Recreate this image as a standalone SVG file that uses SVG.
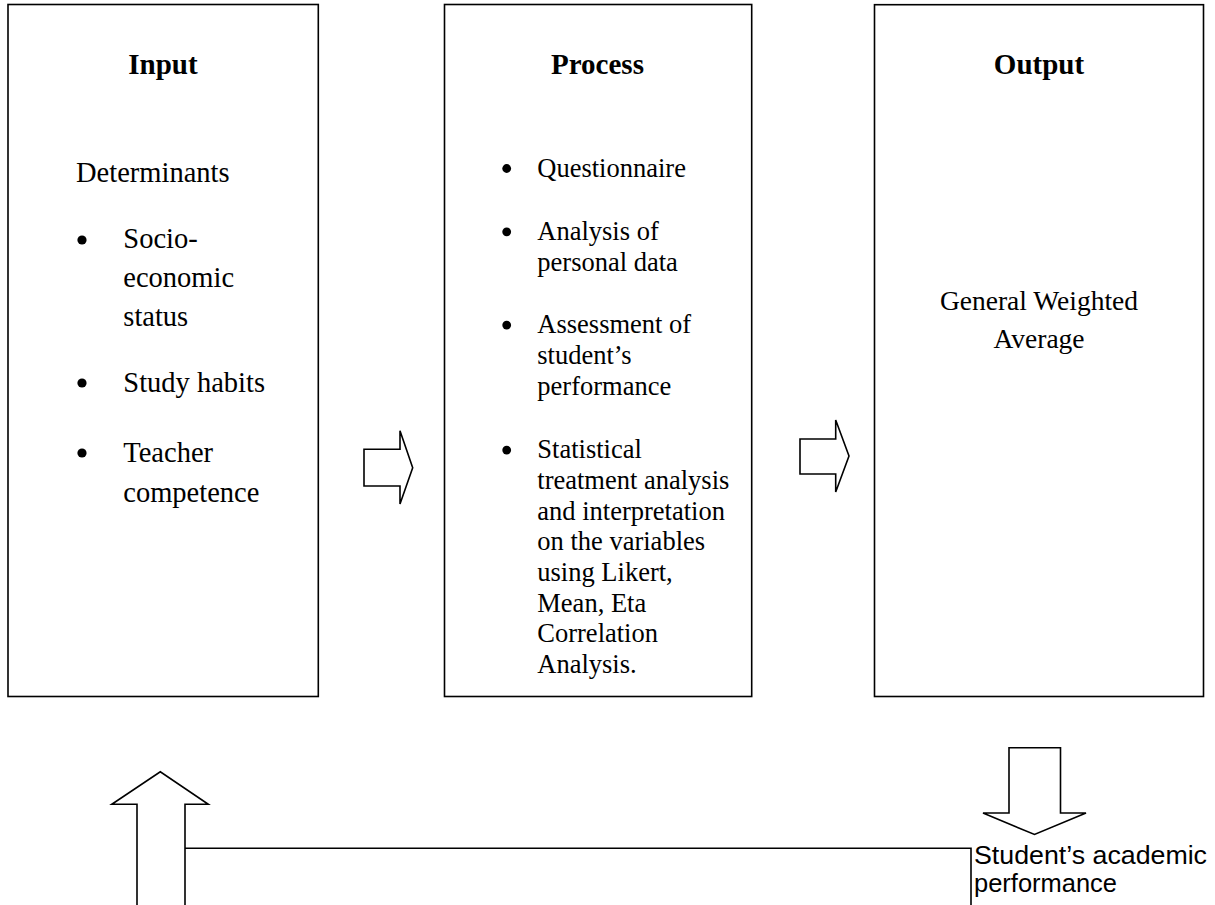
<svg xmlns="http://www.w3.org/2000/svg" width="1215" height="905" viewBox="0 0 1215 905">
  <style>
    .box { fill: #ffffff; stroke: #000000; stroke-width: 1.6; }
    .arrow { fill: #ffffff; stroke: #000000; stroke-width: 1.6; stroke-linejoin: miter; }
    .line { fill: none; stroke: #000000; stroke-width: 1.6; }
    .title { font-family: "Liberation Serif", "Times New Roman", serif; font-weight: bold; font-size: 29px; fill: #000; text-anchor: middle; }
    .t-in { font-family: "Liberation Serif", "Times New Roman", serif; font-size: 28.5px; fill: #000; }
    .t-pr { font-family: "Liberation Serif", "Times New Roman", serif; font-size: 26.5px; fill: #000; }
    .t-out { font-family: "Liberation Serif", "Times New Roman", serif; font-size: 27.5px; fill: #000; text-anchor: middle; }
    .t-sans { font-family: "Liberation Sans", Arial, sans-serif; font-size: 26px; fill: #000; }
    .bullet { fill: #000; }
  </style>
  <rect width="1215" height="905" fill="#ffffff"/>

  <g id="node-input">
    <rect class="box" x="8" y="4.5" width="310.3" height="692"/>
    <text class="title" x="163" y="74">Input</text>
    <text class="t-in" x="76" y="182">Determinants</text>
    <circle class="bullet" cx="82" cy="240" r="4.6"/>
    <text class="t-in" x="123.3" y="248">Socio-</text>
    <text class="t-in" x="123.3" y="287">economic</text>
    <text class="t-in" x="123.3" y="326">status</text>
    <circle class="bullet" cx="82" cy="383" r="4.6"/>
    <text class="t-in" x="123.3" y="392">Study habits</text>
    <circle class="bullet" cx="82" cy="453" r="4.6"/>
    <text class="t-in" x="123.3" y="462">Teacher</text>
    <text class="t-in" x="123.3" y="502">competence</text>
  </g>

  <g id="node-process">
    <rect class="box" x="444.5" y="4.5" width="307.2" height="692"/>
    <text class="title" x="597.5" y="74">Process</text>
    <circle class="bullet" cx="506.7" cy="168.5" r="4.4"/>
    <text class="t-pr" x="537.3" y="176.7">Questionnaire</text>
    <circle class="bullet" cx="506.7" cy="231.8" r="4.4"/>
    <text class="t-pr" x="537.3" y="240">Analysis of</text>
    <text class="t-pr" x="537.3" y="270.7">personal data</text>
    <circle class="bullet" cx="506.7" cy="325.1" r="4.4"/>
    <text class="t-pr" x="537.3" y="333.3">Assessment of</text>
    <text class="t-pr" x="537.3" y="364">student’s</text>
    <text class="t-pr" x="537.3" y="394.7">performance</text>
    <circle class="bullet" cx="506.7" cy="450.1" r="4.4"/>
    <text class="t-pr" x="537.3" y="458.3">Statistical</text>
    <text class="t-pr" x="537.3" y="489">treatment analysis</text>
    <text class="t-pr" x="537.3" y="519.7">and interpretation</text>
    <text class="t-pr" x="537.3" y="550.3">on the variables</text>
    <text class="t-pr" x="537.3" y="581">using Likert,</text>
    <text class="t-pr" x="537.3" y="611.7">Mean, Eta</text>
    <text class="t-pr" x="537.3" y="642.3">Correlation</text>
    <text class="t-pr" x="537.3" y="673">Analysis.</text>
  </g>

  <g id="node-output">
    <rect class="box" x="874.5" y="4.7" width="329" height="691.8"/>
    <text class="title" x="1039" y="74">Output</text>
    <text class="t-out" x="1039" y="310">General Weighted</text>
    <text class="t-out" x="1039" y="348.3">Average</text>
  </g>

  <g id="node-result">
    <text class="t-sans" x="974" y="864" textLength="233" lengthAdjust="spacingAndGlyphs">Student’s academic</text>
    <text class="t-sans" x="974" y="892" textLength="143" lengthAdjust="spacingAndGlyphs">performance</text>
  </g>

  <g id="connectors">
    <polygon class="arrow" points="364,449.3 400,449.3 400,430.7 412.7,467.7 400,504 400,486 364,486"/>
    <polygon class="arrow" points="800,439 835.7,439 835.7,420 849,456 835.7,492 835.7,474 800,474"/>
    <polygon class="arrow" points="1009,747.7 1060.5,747.7 1060.5,813 1086,813 1034.5,834.5 983,813 1009,813"/>
    <polyline class="line" points="185,848.3 971,848.3 971,906"/>
    <polygon class="arrow" points="137,906 137,804.3 111.8,804.3 160.3,771.8 208.3,804.3 185,804.3 185,906"/>
  </g>
</svg>
